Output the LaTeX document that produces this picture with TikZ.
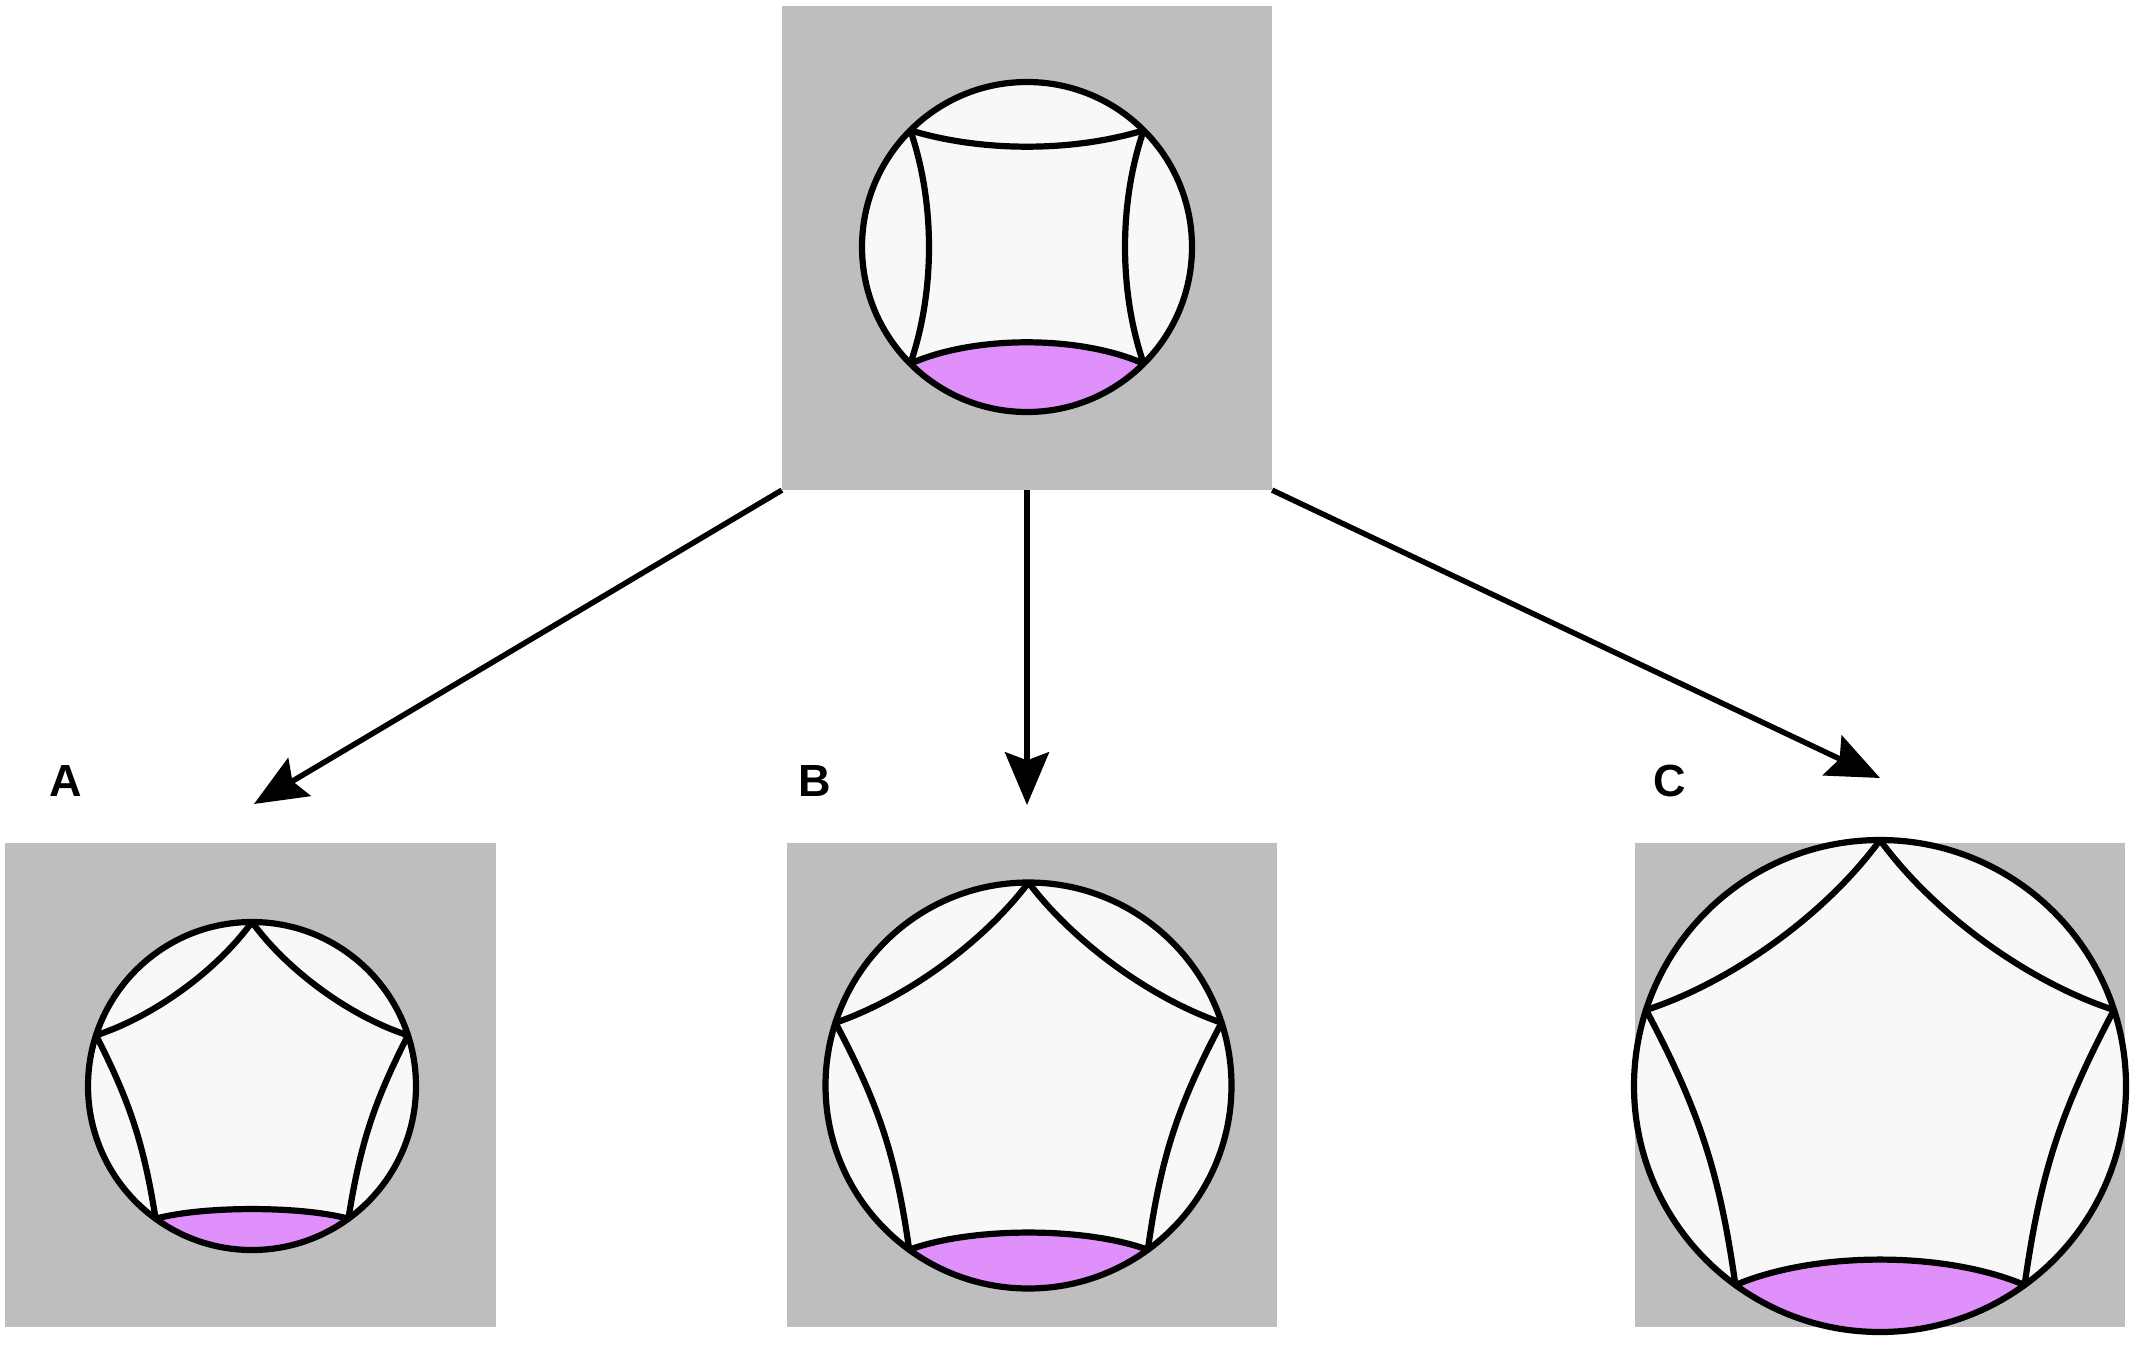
\documentclass[tikz,border=0pt]{standalone}
\usepackage{fontspec}
\setmainfont{Liberation Sans}
\usetikzlibrary{arrows.meta}
\definecolor{panelgray}{RGB}{190,190,190}
\definecolor{diskfill}{RGB}{248,248,248}
\definecolor{pinkfill}{RGB}{224,144,250}
\begin{document}
\begin{tikzpicture}[x=0.01cm,y=0.01cm,
  panel/.style={fill=panelgray, inner sep=0pt, outer sep=0pt, minimum width=4.9cm, minimum height=4.84cm},
  edge/.style={line width=0.062cm, black, line join=round},
  conn/.style={line width=0.055cm, -{Stealth[length=15pt,width=12.5pt,inset=2.3pt]}},
  lab/.style={font=\fontsize{12.8}{14}\selectfont\bfseries, inner sep=0pt}
]
\useasboundingbox (0,0) rectangle (2136,1359);
% panels
\node[panel] (top) at (1027,1111) {};
\node[panel] (pa) at (250.5,274) {};
\node[panel] (pb) at (1032,274) {};
\node[panel] (pc) at (1880,274) {};
% top: square
\begin{scope}[shift={(1027,1112)}]
  \fill[diskfill] (0,0) circle[radius=165];
  \fill[pinkfill] (225:165) to[bend left=24,looseness=0.77] (315:165) arc[start angle=315,end angle=225,radius=165] -- cycle;
  \draw[edge] (45:165) to[bend left=17,looseness=0.82] (135:165) to[bend left=19,looseness=0.84] (225:165) to[bend left=24,looseness=0.77] (315:165) to[bend left=19,looseness=0.84] (45:165);
  \draw[edge] (0,0) circle[radius=165];
\end{scope}
% A
\begin{scope}[shift={(252,273)}]
  \fill[diskfill] (0,0) circle[radius=164];
  \fill[pinkfill] (234:164) to[bend left=15,looseness=0.66] (306:164) arc[start angle=306,end angle=234,radius=164] -- cycle;
  \draw[edge] (90:164) to[bend left=18,looseness=0.8] (162:164) to[bend left=9] (234:164) to[bend left=15,looseness=0.66] (306:164) to[bend left=9] (18:164) to[bend left=18,looseness=0.8] (90:164);
  \draw[edge] (0,0) circle[radius=164];
\end{scope}
% B
\begin{scope}[shift={(1028.5,273.5)}]
  \fill[diskfill] (0,0) circle[radius=203];
  \fill[pinkfill] (234:203) to[bend left=20,looseness=0.72] (306:203) arc[start angle=306,end angle=234,radius=203] -- cycle;
  \draw[edge] (90:203) to[bend left=17,looseness=0.8] (162:203) to[bend left=10] (234:203) to[bend left=20,looseness=0.72] (306:203) to[bend left=10] (18:203) to[bend left=17,looseness=0.8] (90:203);
  \draw[edge] (0,0) circle[radius=203];
\end{scope}
% C
\begin{scope}[shift={(1880,273)}]
  \fill[diskfill] (0,0) circle[radius=246];
  \fill[pinkfill] (234:246) to[bend left=23,looseness=0.77] (306:246) arc[start angle=306,end angle=234,radius=246] -- cycle;
  \draw[edge] (90:246) to[bend left=18,looseness=0.8] (162:246) to[bend left=10] (234:246) to[bend left=23,looseness=0.77] (306:246) to[bend left=10] (18:246) to[bend left=18,looseness=0.8] (90:246);
  \draw[edge] (0,0) circle[radius=246];
\end{scope}
% arrows
\coordinate (tipA) at (254,555);
\coordinate (tipB) at (1027,554);
\coordinate (tipC) at (1880,581);
\draw[conn] (top.south west) -- (tipA);
\draw[conn] (top.south) -- (tipB);
\draw[conn] (top.south east) -- (tipC);
% labels
\node[lab] (la) at (66,578) {A};
\node[lab] (lb) at (815,578) {B};
\node[lab] (lc) at (1670,578) {C};
\end{tikzpicture}
\end{document}
